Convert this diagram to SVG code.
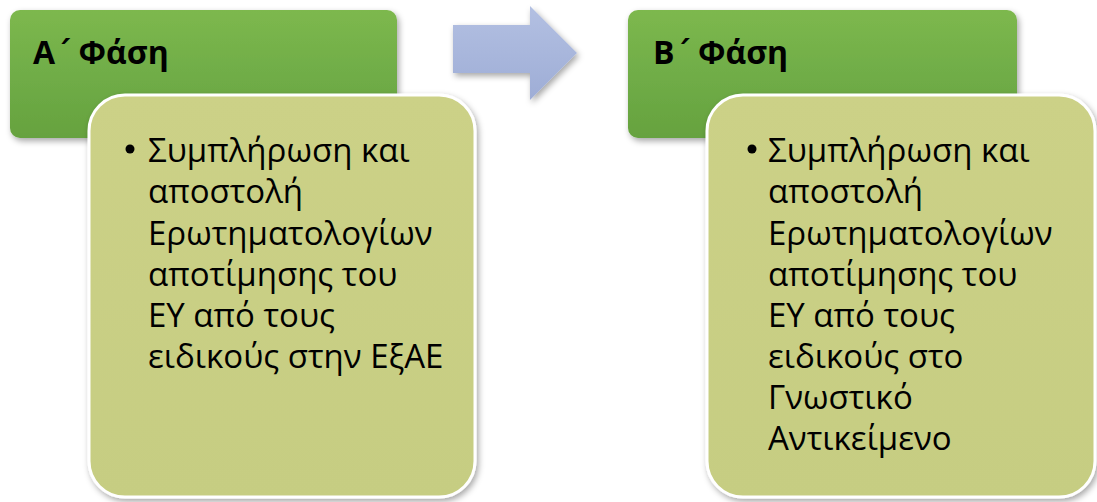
<svg xmlns="http://www.w3.org/2000/svg" width="1097" height="502" viewBox="0 0 1097 502">
<style>
.title{font-family:"Open Sans","Noto Sans","DejaVu Sans",sans-serif;font-weight:bold;font-size:32px;fill:#000}
.tonos{font-family:"DejaVu Sans","Noto Sans",sans-serif}
.body{font-family:"Open Sans","Noto Sans","DejaVu Sans",sans-serif;font-size:33px;fill:#000}
</style>
<defs>
<linearGradient id="gGreen" x1="0" y1="0" x2="0" y2="1">
<stop offset="0" stop-color="#7DB84E"/>
<stop offset="0.5" stop-color="#70AD47"/>
<stop offset="1" stop-color="#66A23F"/>
</linearGradient>
<linearGradient id="gYellow" x1="0" y1="0" x2="0" y2="1">
<stop offset="0" stop-color="#CCD187"/>
<stop offset="1" stop-color="#C6CD82"/>
</linearGradient>
<linearGradient id="gArrow" x1="0" y1="0" x2="0" y2="1">
<stop offset="0" stop-color="#B3C0E2"/>
<stop offset="1" stop-color="#9EADD6"/>
</linearGradient>
<filter id="sh" x="-10%" y="-10%" width="125%" height="125%">
<feDropShadow dx="2" dy="3" stdDeviation="3" flood-color="#000" flood-opacity="0.35"/>
</filter>
</defs>
<g id="connectors">
<path d="M453,25 H530 V6 L577,53 L530,100 V73 H453 Z" fill="url(#gArrow)" filter="url(#sh)"/>
</g>
<g id="phaseA">
<rect x="10" y="10" width="387" height="128" rx="10" fill="url(#gGreen)" filter="url(#sh)"/>
<text class="title" x="33" y="64">Α<tspan class="tonos" dx="1">΄</tspan> Φάση</text>
</g>
<g id="detailA">
<rect x="89" y="95" width="386" height="402" rx="36" fill="url(#gYellow)" stroke="#FFFFFF" stroke-width="3" filter="url(#sh)"/>
<circle cx="130" cy="149" r="4.5" fill="#000"/>
<text class="body" x="148" y="162">Συμπλήρωση και</text>
<text class="body" x="148" y="203">αποστολή</text>
<text class="body" x="148" y="245">Ερωτηματολογίων</text>
<text class="body" x="148" y="286">αποτίμησης του</text>
<text class="body" x="148" y="327">ΕΥ από τους</text>
<text class="body" x="148" y="368">ειδικούς στην ΕξΑΕ</text>
</g>
<g id="phaseB">
<rect x="628" y="10" width="389" height="128" rx="10" fill="url(#gGreen)" filter="url(#sh)"/>
<text class="title" x="653" y="64">Β<tspan class="tonos" dx="1">΄</tspan> Φάση</text>
</g>
<g id="detailB">
<rect x="707" y="95" width="388" height="402" rx="36" fill="url(#gYellow)" stroke="#FFFFFF" stroke-width="3" filter="url(#sh)"/>
<circle cx="752" cy="149" r="4.5" fill="#000"/>
<text class="body" x="768" y="162">Συμπλήρωση και</text>
<text class="body" x="768" y="203">αποστολή</text>
<text class="body" x="768" y="245">Ερωτηματολογίων</text>
<text class="body" x="768" y="286">αποτίμησης του</text>
<text class="body" x="768" y="327">ΕΥ από τους</text>
<text class="body" x="768" y="368">ειδικούς στο</text>
<text class="body" x="768" y="409">Γνωστικό</text>
<text class="body" x="768" y="450">Αντικείμενο</text>
</g>
</svg>
